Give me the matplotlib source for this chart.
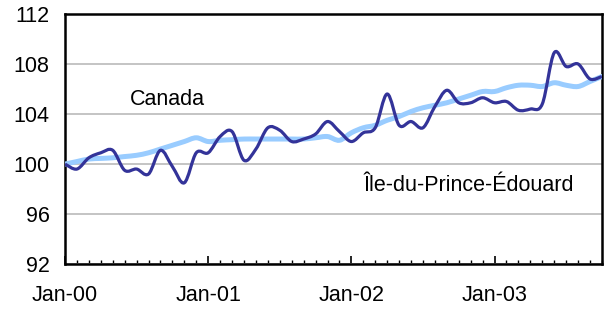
import numpy as np
import matplotlib.pyplot as plt
from matplotlib.path import Path
from matplotlib.patches import PathPatch

plt.rcParams['font.family'] = ['Liberation Sans', 'DejaVu Sans']

# monthly index, Jan-00 .. Oct-03
months = np.arange(46)
tick_pos = [0, 12, 24, 36]
tick_labels = ['Jan-00', 'Jan-01', 'Jan-02', 'Jan-03']

canada = [100.0, 100.2, 100.4, 100.45, 100.5, 100.6, 100.7, 100.9, 101.2, 101.5,
          101.8, 102.1, 101.8, 101.9, 101.95, 102.0, 102.0, 102.0, 102.0, 102.0,
          102.0, 102.1, 102.2, 101.9, 102.5, 102.9, 103.1, 103.5, 103.8, 104.2,
          104.5, 104.7, 104.9, 105.2, 105.5, 105.8, 105.8, 106.1, 106.3, 106.3,
          106.2, 106.5, 106.3, 106.2, 106.6, 107.0]

pei = [100.0, 99.6, 100.5, 100.9, 101.1, 99.5, 99.6, 99.2, 101.1, 99.8,
       98.5, 100.9, 100.9, 102.2, 102.6, 100.3, 101.2, 102.9, 102.7, 101.8,
       102.0, 102.4, 103.4, 102.6, 101.8, 102.5, 102.9, 105.6, 103.1, 103.4,
       102.9, 104.6, 105.9, 104.9, 104.9, 105.3, 104.9, 105.0, 104.3, 104.4,
       104.8, 108.9, 107.8, 108.0, 106.8, 107.0]


def smooth_path(x, y):
    # Excel-style smoothed line: Catmull-Rom segments as cubic Beziers
    p = np.column_stack([x, y]).astype(float)
    p = np.vstack([p[0], p, p[-1]])
    verts = [p[1]]
    codes = [Path.MOVETO]
    for i in range(1, len(p) - 2):
        c1 = p[i] + (p[i + 1] - p[i - 1]) / 6
        c2 = p[i + 1] - (p[i + 2] - p[i]) / 6
        verts += [c1, c2, p[i + 1]]
        codes += [Path.CURVE4] * 3
    return Path(verts, codes)


fig = plt.figure(figsize=(6.04, 3.10), dpi=100)
ax = fig.add_axes([0.1076, 0.148, 0.889, 0.807])

ax.add_patch(PathPatch(smooth_path(months, canada), fill=False, edgecolor='#99CCFF',
                       lw=3.6, capstyle='round', zorder=3))
ax.add_patch(PathPatch(smooth_path(months, pei), fill=False, edgecolor='#333399',
                       lw=2.3, joinstyle='round', zorder=4))

ax.set_xlim(0, 45)
ax.set_ylim(92, 112)
ax.set_yticks([92, 96, 100, 104, 108, 112])
ax.set_xticks(tick_pos)
ax.set_xticklabels(tick_labels)
ax.set_xticks(months, minor=True)
ax.tick_params(axis='x', which='major', direction='in', length=6, width=1.2, pad=15, labelsize=15.5)
ax.tick_params(axis='x', which='minor', direction='in', length=3, width=1)
ax.tick_params(axis='y', length=0, pad=11, labelsize=15.5)
ax.grid(axis='y', color='#BFBFBF', lw=1.3)
for s in ax.spines.values():
    s.set_linewidth(1.8)

ax.text(8.6, 105.2, 'Canada', fontsize=15.5, ha='center', va='center')
ax.text(33.8, 98.3, 'Île-du-Prince-Édouard', fontsize=15.5, ha='center', va='center')

fig.savefig('out.png', dpi=100)
